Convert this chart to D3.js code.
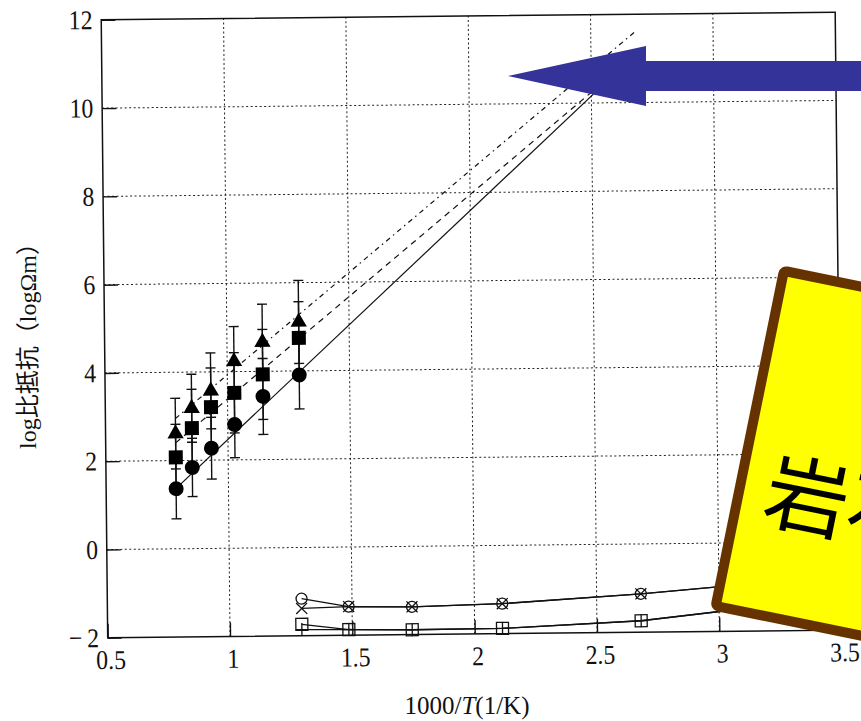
<!DOCTYPE html>
<html>
<head>
<meta charset="utf-8">
<script src="https://d3js.org/d3.v7.min.js"></script>
<style>
  body { margin: 0; background: #fff; }
  svg { display: block; }
</style>
</head>
<body>
<div id="chart"></div>
<script>
// 1000/T of the high temperature runs (filled symbols)
const hotX = [0.786, 0.853, 0.932, 1.028, 1.145, 1.294];
const triY = [2.61, 3.18, 3.57, 4.23, 4.66, 5.11];
const triErr = [0.80, 0.77, 0.86, 0.79, 0.86, 0.94];
const sqY = [2.07, 2.73, 3.20, 3.52, 3.93, 4.75];
const sqErr = [0.75, 0.88, 0.89, 0.91, 1.02, 0.82];
const dotY = [1.36, 1.84, 2.27, 2.80, 3.43, 3.91];
const dotErr = [0.68, 0.66, 0.70, 0.75, 0.86, 0.77];

// low temperature runs (open symbols)
const coldX = [1.294, 1.486, 1.745, 2.114, 2.681, 3.354];
const ringY = [-1.16, -1.35, -1.37, -1.32, -1.13, -0.83];
const crossY = [-1.38, -1.35, -1.37, -1.32, -1.13, -0.83];
const boxY = [-1.74, -1.87, -1.89, -1.88, -1.74, -1.34];
const plusY = [-1.86, -1.87, -1.89, -1.88, -1.74, -1.34];

// extrapolated fit lines [x, y]
const triFit = [[0.786, 2.95], [2.68, 11.6]];
const sqFit = [[0.786, 2.40], [2.60, 10.7]];
const dotFit = [[0.786, 1.37], [2.60, 10.67]];

const xTicks = [0.5, 1, 1.5, 2, 2.5, 3, 3.5];
const yTicks = [-2, 0, 2, 4, 6, 8, 10, 12];

const width = 861, height = 721;

const svg = d3.select("#chart").append("svg")
    .attr("width", width)
    .attr("height", height);

// the scanned figure is slightly tilted
const g = svg.append("g").attr("transform", "rotate(-0.6,470,330)");

const x = d3.scaleLinear().domain([0.5, 3.5]).range([104.5, 838.5]);
const y = d3.scaleLinear().domain([-2, 12]).range([634, 16]);

// dotted grid
g.selectAll(".vgrid")
    .data(xTicks.slice(1, -1))
    .enter().append("line")
    .attr("x1", d => x(d)).attr("x2", d => x(d))
    .attr("y1", y(-2)).attr("y2", y(12))
    .attr("stroke", "#222").attr("stroke-width", 1)
    .attr("stroke-dasharray", "2,2.5");
g.selectAll(".hgrid")
    .data(yTicks.slice(1, -1))
    .enter().append("line")
    .attr("x1", x(0.5)).attr("x2", x(3.5))
    .attr("y1", d => y(d)).attr("y2", d => y(d))
    .attr("stroke", "#222").attr("stroke-width", 1)
    .attr("stroke-dasharray", "2,2.5");

// frame
g.append("rect")
    .attr("x", x(0.5)).attr("y", y(12))
    .attr("width", x(3.5) - x(0.5)).attr("height", y(-2) - y(12))
    .attr("fill", "none").attr("stroke", "#111").attr("stroke-width", 1.5);

// axes (the scanned digits are tall and narrow)
const yAxis = g.append("g")
    .attr("transform", `translate(${x(0.5)},0)`)
    .call(d3.axisLeft(y).tickValues(yTicks).tickSizeInner(-14).tickSizeOuter(0).tickPadding(10)
        .tickFormat(d => d < 0 ? "\u2212\u2009" + Math.abs(d) : d));
yAxis.select(".domain").remove();
yAxis.selectAll("line").attr("stroke", "#111").attr("stroke-width", 1.4);
yAxis.selectAll("text")
    .style("font-family", "'Liberation Serif', serif")
    .style("font-size", "27px")
    .attr("fill", "#111")
    .attr("transform", "scale(0.88,1)");

const xAxis = g.append("g")
    .attr("transform", `translate(0,${y(-2)})`)
    .call(d3.axisBottom(x).tickValues(xTicks).tickSizeInner(-14).tickSizeOuter(0).tickPadding(12)
        .tickFormat(d => d));
xAxis.select(".domain").remove();
xAxis.selectAll("line").attr("stroke", "#111").attr("stroke-width", 1.4);
xAxis.selectAll("text")
    .style("font-family", "'Liberation Serif', serif")
    .style("font-size", "27px")
    .attr("fill", "#111")
    .attr("dx", 3)
    .attr("transform", "scale(0.88,1)");

// fit lines
const fitLine = d3.line().x(d => x(d[0])).y(d => y(d[1]));
g.append("path").datum(dotFit).attr("d", fitLine)
    .attr("fill", "none").attr("stroke", "#111").attr("stroke-width", 1.2);
g.append("path").datum(sqFit).attr("d", fitLine)
    .attr("fill", "none").attr("stroke", "#111").attr("stroke-width", 1.2)
    .attr("stroke-dasharray", "6,5");
g.append("path").datum(triFit).attr("d", fitLine)
    .attr("fill", "none").attr("stroke", "#111").attr("stroke-width", 1.2)
    .attr("stroke-dasharray", "5,4,1.5,4");

// error bars
function errorBars(ys, errs) {
    const data = hotX.map((v, i) => ({ x: v, y: ys[i], e: errs[i] }));
    const eg = g.append("g").attr("stroke", "#111").attr("stroke-width", 1.4);
    data.forEach(d => {
        eg.append("line")
            .attr("x1", x(d.x)).attr("x2", x(d.x))
            .attr("y1", y(d.y - d.e)).attr("y2", y(d.y + d.e));
        [d.y - d.e, d.y + d.e].forEach(v => {
            eg.append("line")
                .attr("x1", x(d.x) - 5).attr("x2", x(d.x) + 5)
                .attr("y1", y(v)).attr("y2", y(v));
        });
    });
}
errorBars(triY, triErr);
errorBars(sqY, sqErr);
errorBars(dotY, dotErr);

// filled markers
g.selectAll(".tri")
    .data(hotX.map((v, i) => [v, triY[i]]))
    .enter().append("path")
    .attr("d", d3.symbol(d3.symbolTriangle).size(115))
    .attr("transform", d => `translate(${x(d[0])},${y(d[1])})`)
    .attr("fill", "#000");
g.selectAll(".sq")
    .data(hotX.map((v, i) => [v, sqY[i]]))
    .enter().append("rect")
    .attr("x", d => x(d[0]) - 7).attr("y", d => y(d[1]) - 7)
    .attr("width", 14).attr("height", 14)
    .attr("fill", "#000");
g.selectAll(".dot")
    .data(hotX.map((v, i) => [v, dotY[i]]))
    .enter().append("circle")
    .attr("cx", d => x(d[0])).attr("cy", d => y(d[1]))
    .attr("r", 7.5)
    .attr("fill", "#000");

// low temperature curves
const lowLine = d3.line().x((d, i) => x(coldX[i])).y(d => y(d));
[ringY, crossY, boxY, plusY].forEach(s => {
    g.append("path").datum(s).attr("d", lowLine)
        .attr("fill", "none").attr("stroke", "#111").attr("stroke-width", 1.3);
});
const lg = g.append("g").attr("stroke", "#111").attr("stroke-width", 1.3).attr("fill", "none");
coldX.forEach((v, i) => {
    const cx = x(v);
    lg.append("circle").attr("cx", cx).attr("cy", y(ringY[i])).attr("r", 5.5);
    const cy = y(crossY[i]);
    lg.append("path").attr("d", `M${cx - 5.5},${cy - 5.5}L${cx + 5.5},${cy + 5.5}M${cx - 5.5},${cy + 5.5}L${cx + 5.5},${cy - 5.5}`);
    lg.append("rect").attr("x", cx - 6).attr("y", y(boxY[i]) - 6).attr("width", 12).attr("height", 12);
    const py = y(plusY[i]);
    lg.append("path").attr("d", `M${cx},${py - 6.5}L${cx},${py + 6.5}M${cx - 6},${py}L${cx + 6},${py}`);
});

// axis titles
svg.append("text")
    .attr("transform", "translate(36,340) rotate(-90)")
    .attr("text-anchor", "middle")
    .style("font-family", "'Liberation Serif', 'Noto Sans CJK JP', serif")
    .style("font-size", "24px")
    .attr("fill", "#111")
    .text("log比抵抗（logΩm）");

const xt = svg.append("text")
    .attr("x", 467).attr("y", 714)
    .attr("text-anchor", "middle")
    .style("font-family", "'Liberation Serif', serif")
    .style("font-size", "25px")
    .attr("fill", "#111");
xt.append("tspan").text("1000/");
xt.append("tspan").style("font-style", "italic").text("T");
xt.append("tspan").text("(1/K)");

// slide overlays: blue arrow and yellow note
svg.append("polygon")
    .attr("points", "508,76 646,46 646,61 861,61 861,91 646,91 646,106")
    .attr("fill", "#333399");

const note = svg.append("g").attr("transform", "translate(780,265) rotate(11.5)");
note.append("rect")
    .attr("x", 5).attr("y", 5)
    .attr("width", 420).attr("height", 342)
    .attr("rx", 3)
    .attr("fill", "#ffff00")
    .attr("stroke", "#663300")
    .attr("stroke-width", 10)
    .attr("stroke-linejoin", "round");
note.append("text")
    .attr("x", 31).attr("y", 253)
    .style("font-family", "'Noto Sans CJK JP', sans-serif")
    .style("font-size", "84px")
    .attr("fill", "#000")
    .text("岩石の比抵抗");
</script>
</body>
</html>
